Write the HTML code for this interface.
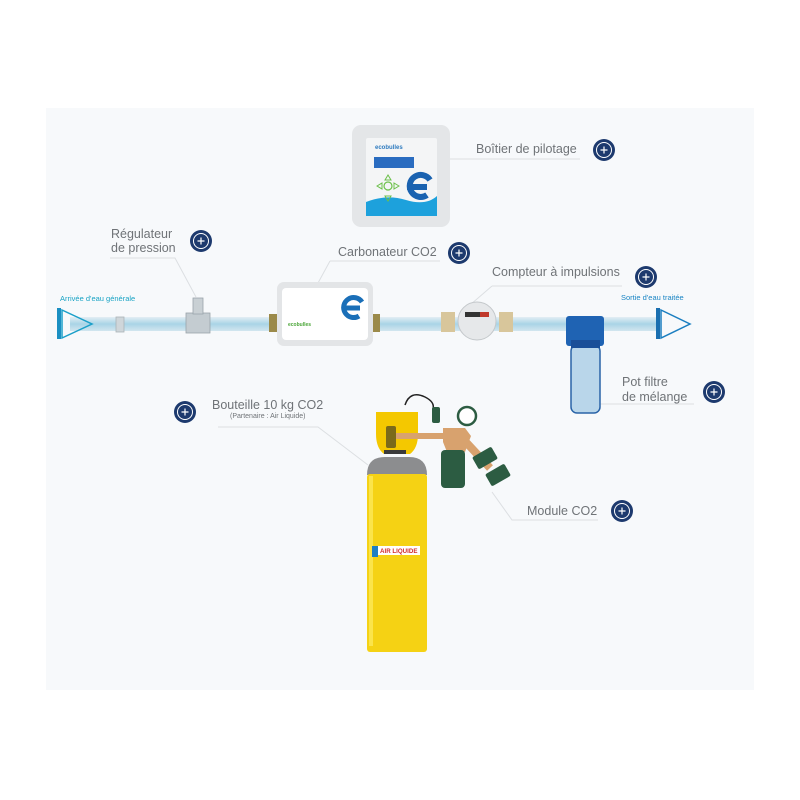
<!DOCTYPE html>
<html><head><meta charset="utf-8"><style>
html,body{margin:0;padding:0;background:#fff}
svg{display:block}
text{font-family:"Liberation Sans",sans-serif}
</style></head><body>
<svg width="800" height="800" viewBox="0 0 800 800" xmlns="http://www.w3.org/2000/svg">
<defs>
<linearGradient id="pipe" x1="0" y1="0" x2="0" y2="1">
<stop offset="0" stop-color="#e3eef4"/><stop offset="0.5" stop-color="#a9d4e6"/><stop offset="1" stop-color="#d2e6ef"/>
</linearGradient>
<g id="plus"><circle r="11" fill="#1d3a6e"/><circle r="7.5" fill="none" stroke="#fff" stroke-width="1"/><path d="M-3.5 0H3.5M0 -3.5V3.5" stroke="#fff" stroke-width="1.2"/></g>
</defs>
<rect x="46" y="108" width="708" height="582" fill="#f7f9fb"/>

<!-- leader lines -->
<g stroke="#dcdfe2" stroke-width="1" fill="none">
<path d="M448 159H580"/>
<path d="M110 258H175L196 297"/>
<path d="M330 261H440M330 261L318 283"/>
<path d="M492 286H622M492 286L470 305"/>
<path d="M600 404H694"/>
<path d="M218 427H318L368 465"/>
<path d="M598 520H512L492 492"/>
</g>

<!-- pipe -->
<rect x="70" y="317" width="590" height="14" fill="url(#pipe)"/>
<!-- inlet -->
<rect x="57" y="308" width="4" height="31" fill="#1a8fc2"/>
<path d="M62 310L92 324L62 338Z" fill="none" stroke="#1a9fc9" stroke-width="1.5"/>
<text x="60" y="301" font-size="7.5" fill="#18a3c4">Arrivée d'eau générale</text>
<!-- outlet -->
<rect x="656" y="308" width="4" height="31" fill="#1a6fb0"/>
<path d="M661 310L690 324L661 338Z" fill="none" stroke="#1a7ec0" stroke-width="1.5"/>
<text x="621" y="300" font-size="7.5" fill="#1a85c4">Sortie d'eau traitée</text>

<!-- fitting -->
<rect x="116" y="317" width="8" height="15" fill="#cfd6da" stroke="#aab3b8" stroke-width="0.8"/>
<!-- regulator -->
<rect x="186" y="313" width="24" height="20" fill="#c4ccd1" stroke="#9aa4aa" stroke-width="0.8"/>
<rect x="193" y="298" width="10" height="16" fill="#c9d0d4" stroke="#9aa4aa" stroke-width="0.8"/>

<!-- carbonator -->
<rect x="269" y="314" width="8" height="18" fill="#9b8a4a"/>
<rect x="372" y="314" width="8" height="18" fill="#9b8a4a"/>
<rect x="277" y="282" width="96" height="64" rx="7" fill="#e3e5e7"/>
<rect x="282" y="288" width="86" height="52" rx="4" fill="#fff"/>
<text x="288" y="326" font-size="5" fill="#4aa537" font-weight="bold">ecobulles</text>
<path d="M362 302a10 10 0 1 0 -3 14M343 308h17" fill="none" stroke="#1a6fb8" stroke-width="5"/>

<!-- control box -->
<rect x="352" y="125" width="98" height="102" rx="9" fill="#e4e6e8"/>
<rect x="366" y="138" width="71" height="78" rx="2" fill="#f4f5f6"/>
<path d="M366 202q20 -8 40 -2t31 -4V216H366Z" fill="#1da1dc"/>
<text x="375" y="149" font-size="6" fill="#2f7bbf" font-weight="bold">ecobulles</text>
<rect x="374" y="157" width="40" height="11" fill="#2a6cc0"/>
<circle cx="388" cy="186" r="4" fill="none" stroke="#6cc04a" stroke-width="1.2"/>
<path d="M388 175l-3 5h6zM377 186l5 -3v6zM399 186l-5 -3v6zM385 196l3 5l3 -5z" fill="none" stroke="#6cc04a" stroke-width="1"/>
<path d="M430 180a11 11 0 1 0 -3 15M407 187h20" fill="none" stroke="#1a62b0" stroke-width="6"/>

<!-- meter -->
<rect x="441" y="312" width="14" height="20" fill="#d8c69b"/>
<rect x="499" y="312" width="14" height="20" fill="#d8c69b"/>
<circle cx="477" cy="321" r="19" fill="#e6e8ea" stroke="#c4c8cb" stroke-width="1"/>
<rect x="465" y="312" width="24" height="5" fill="#333"/><rect x="480" y="312" width="9" height="5" fill="#c0392b"/>

<!-- filter -->
<rect x="571" y="345" width="29" height="68" rx="6" fill="#b9d6ea" stroke="#2a64a8" stroke-width="1.5"/>
<rect x="566" y="316" width="38" height="30" rx="3" fill="#1f63b3"/>
<rect x="571" y="340" width="29" height="8" fill="#1a4f98"/>

<!-- cylinder -->
<path d="M367 475q0 -18 18 -18h24q18 0 18 18Z" fill="#8c8d8f"/>
<rect x="367" y="474" width="60" height="178" rx="3" fill="#f5d214"/>
<rect x="369" y="476" width="4" height="170" fill="#fbe44a"/>
<path d="M376 412h42v22q0 14 -8 20h-26q-8 -6 -8 -20Z" fill="#f4c800"/>
<rect x="386" y="426" width="10" height="22" rx="2" fill="#7a6a1a"/>
<rect x="384" y="450" width="22" height="4" fill="#3a3a3a"/>
<rect x="372" y="546" width="6" height="11" fill="#1e7fc4"/>
<rect x="378" y="546" width="42" height="9" fill="#fff"/>
<text x="380" y="553" font-size="6.2" fill="#d22b2b" font-weight="bold">AIR LIQUIDE</text>
<!-- module -->
<path d="M405 405q5 -15 20 -8q10 5 8 12" fill="none" stroke="#222" stroke-width="1.5"/>
<rect x="432" y="407" width="8" height="16" rx="2" fill="#2c5c42"/>
<rect x="396" y="433" width="50" height="6" fill="#d8a26e"/>
<path d="M443 428h22l6 8l-6 16h-18l-4 -10z" fill="#d8a26e"/>
<rect x="441" y="450" width="24" height="38" rx="4" fill="#2c5c42"/>
<path d="M464 440l26 28" stroke="#d8a26e" stroke-width="8"/>
<rect x="474" y="451" width="22" height="14" rx="2" fill="#2c5c42" transform="rotate(-30 485 458)"/>
<rect x="487" y="468" width="22" height="14" rx="2" fill="#2c5c42" transform="rotate(-30 498 475)"/>
<circle cx="467" cy="416" r="9" fill="#fff" stroke="#2c5c42" stroke-width="2.5"/>

<!-- labels -->
<g fill="#6f7377" font-size="12.5">
<text x="476" y="153">Boîtier de pilotage</text>
<text x="111" y="238">Régulateur</text>
<text x="111" y="252">de pression</text>
<text x="338" y="256">Carbonateur CO2</text>
<text x="492" y="276">Compteur à impulsions</text>
<text x="622" y="386">Pot filtre</text>
<text x="622" y="401">de mélange</text>
<text x="212" y="409">Bouteille 10 kg CO2</text>
<text x="527" y="515">Module CO2</text>
</g>
<text x="230" y="418" font-size="7" fill="#6f7377">(Partenaire : Air Liquide)</text>

<use href="#plus" x="604" y="150"/>
<use href="#plus" x="201" y="241"/>
<use href="#plus" x="459" y="253"/>
<use href="#plus" x="646" y="277"/>
<use href="#plus" x="714" y="392"/>
<use href="#plus" x="185" y="412"/>
<use href="#plus" x="622" y="511"/>
</svg>
</body></html>
